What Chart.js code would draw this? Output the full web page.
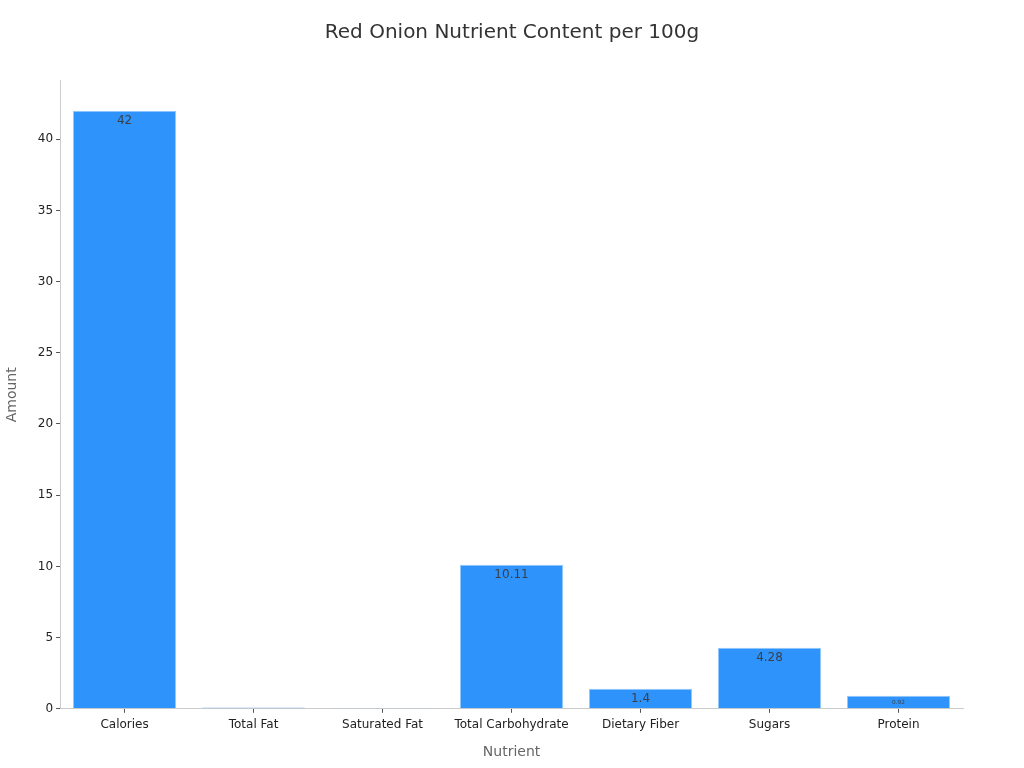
<!DOCTYPE html>
<html><head><meta charset="utf-8">
<script src="https://cdn.jsdelivr.net/npm/chart.js@4.4.1/dist/chart.umd.min.js"></script>
<style>html,body{margin:0;padding:0;background:#fff}#wrap{width:1024px;height:768px}</style>
</head><body><div id="wrap"><canvas id="c" width="1024" height="768"></canvas></div>
<script>
const categories = ["Calories","Total Fat","Saturated Fat","Total Carbohydrate","Dietary Fiber","Sugars","Protein"];
const amounts = [42, 0.1, 0.02, 10.11, 1.4, 4.28, 0.92];
const labelTexts = ["42","","","10.11","1.4","4.28","0.92"];
const yTicks = [0,5,10,15,20,25,30,35,40];
const yMax = 44.1;
const titleText = 'Red Onion Nutrient Content per 100g';

const FONT = "'DejaVu Sans', sans-serif";

const labelPlugin = {
  id: 'barLabels',
  afterDatasetsDraw(chart) {
    const ctx = chart.ctx;
    const meta = chart.getDatasetMeta(0);
    meta.data.forEach((bar, i) => {
      const t = labelTexts[i];
      if (!t) return;
      const h = bar.base - bar.y;
      const size = h >= 18 ? 12 : Math.max(3, h * 0.46);
      ctx.save();
      ctx.font = size + 'px ' + FONT;
      ctx.fillStyle = '#3a3f4a';
      ctx.textAlign = 'center';
      ctx.textBaseline = 'middle';
      const y = h >= 18 ? bar.y + 10.5 : bar.y + h / 2;
      ctx.fillText(t, bar.x, y);
      ctx.restore();
    });
  },
  afterDraw(chart) {
    const ctx = chart.ctx;
    ctx.save();
    ctx.font = '20px ' + FONT;
    ctx.fillStyle = '#333333';
    ctx.textAlign = 'center';
    ctx.textBaseline = 'middle';
    ctx.fillText(titleText, chart.width / 2, 33);
    ctx.restore();
  }
};

new Chart(document.getElementById('c'), {
  type: 'bar',
  data: {
    labels: categories,
    datasets: [{
      data: amounts,
      backgroundColor: '#2e93fa',
      borderColor: '#94c8fb',
      borderWidth: 1,
      barPercentage: 0.8,
      categoryPercentage: 1.0
    }]
  },
  options: {
    responsive: false,
    animation: false,
    devicePixelRatio: 1,
    layout: { padding: { left: 0, right: 61, top: 10, bottom: 3 } },
    plugins: {
      legend: { display: false },
      tooltip: { enabled: false },
      title: {
        display: true,
        text: titleText,
        color: 'rgba(0,0,0,0)',
        font: { family: FONT, size: 19, weight: 'normal' },
        padding: { top: 14, bottom: 34 }
      }
    },
    scales: {
      x: {
        offset: true,
        grid: { offset: false, drawOnChartArea: false, drawTicks: true, tickLength: 4, color: '#555' },
        border: { color: '#cccccc' },
        ticks: { color: '#222', font: { family: FONT, size: 12 }, padding: 5 },
        title: { display: true, text: 'Nutrient', color: '#666', font: { family: FONT, size: 14 }, padding: { top: 7 } }
      },
      y: {
        min: 0,
        max: yMax,
        afterBuildTicks(scale) { scale.ticks = yTicks.map(v => ({ value: v })); },
        grid: { drawOnChartArea: false, drawTicks: true, tickLength: 4, color: '#555' },
        border: { color: '#cccccc' },
        ticks: { color: '#222', font: { family: FONT, size: 12 }, padding: 3 },
        title: { display: true, text: 'Amount', color: '#666', font: { family: FONT, size: 14 }, padding: { bottom: 14 } }
      }
    }
  },
  plugins: [labelPlugin]
});
</script></body></html>
